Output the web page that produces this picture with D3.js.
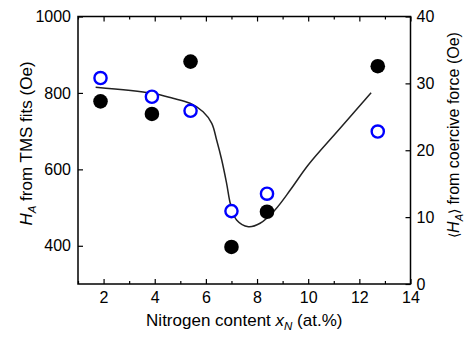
<!DOCTYPE html>
<html>
<head>
<meta charset="utf-8">
<script src="https://cdn.jsdelivr.net/npm/d3@7"></script>
<style>
  body { margin: 0; background: #fff; }
  svg text { font-family: "Liberation Sans", Arial, sans-serif; }
</style>
</head>
<body>
<div class="chart"></div>
<script>
// nitrogen content of each sample (at.%)
const xN = [1.88, 3.89, 5.4, 7.0, 8.39, 12.72];
// H_A from TMS fits (Oe), left axis
const haTMS = [778, 745, 882, 397, 489, 870];
// <H_A> from coercive force (Oe), right axis
const haCoercive = [30.8, 28.0, 25.9, 10.9, 13.5, 22.8];
// guide-to-the-eye curve, right axis units
const guideX = [1.69, 3.89, 4.71, 5.38, 5.89, 6.23, 6.42, 6.62, 6.81, 6.97, 7.2, 7.66, 8.12, 8.7, 9.32, 10.0, 11.24, 12.46];
const guideY = [29.43, 28.52, 27.77, 27.02, 25.76, 24.03, 21.53, 18.54, 15.06, 11.81, 9.57, 8.57, 9.08, 11.07, 14.16, 17.79, 23.25, 28.6];

const xTicks = [2, 4, 6, 8, 10, 12, 14];
const leftTicks = [400, 600, 800, 1000];
const rightTicks = [0, 10, 20, 30, 40];

const width = 468, height = 341;
const margin = { top: 16.5, right: 57.5, bottom: 57, left: 78 };
const w = width - margin.left - margin.right;
const h = height - margin.top - margin.bottom;

const svg = d3.select('.chart').append('svg')
  .attr('width', width)
  .attr('height', height);

const g = svg.append('g')
  .attr('transform', `translate(${margin.left},${margin.top})`);

const x = d3.scaleLinear().domain([1, 14]).range([0, w]);
const yL = d3.scaleLinear().domain([300, 1000]).range([h, 0]);
const yR = d3.scaleLinear().domain([0, 40]).range([h, 0]);

function styleAxis(sel) {
  sel.select('.domain').remove();
  sel.selectAll('line').attr('stroke', '#000').attr('stroke-width', 1.2);
  sel.selectAll('text').attr('font-size', 16).attr('fill', '#000');
}

// minor ticks
const minorX = d3.range(1, 14, 2);
g.append('g').attr('transform', `translate(0,${h})`)
  .call(d3.axisBottom(x).tickValues(minorX).tickSize(-3).tickFormat(''))
  .call(styleAxis);
g.append('g')
  .call(d3.axisTop(x).tickValues(minorX).tickSize(-3).tickFormat(''))
  .call(styleAxis);

// major ticks
g.append('g').attr('transform', `translate(0,${h})`)
  .call(d3.axisBottom(x).tickValues(xTicks).tickSize(-5).tickPadding(8).tickFormat(d3.format('d')))
  .call(styleAxis);
g.append('g')
  .call(d3.axisTop(x).tickValues(xTicks).tickSize(-5).tickFormat(''))
  .call(styleAxis);
g.append('g')
  .call(d3.axisLeft(yL).tickValues(leftTicks).tickSize(-5).tickPadding(7).tickFormat(d3.format('d')))
  .call(styleAxis);
g.append('g').attr('transform', `translate(${w},0)`)
  .call(d3.axisRight(yR).tickValues(rightTicks).tickSize(-5).tickPadding(6).tickFormat(d3.format('d')))
  .call(styleAxis);

// frame
g.append('rect')
  .attr('width', w)
  .attr('height', h)
  .attr('fill', 'none')
  .attr('stroke', '#000')
  .attr('stroke-width', 1.5);

// guide curve
const line = d3.line()
  .x(d => x(d[0]))
  .y(d => yR(d[1]))
  .curve(d3.curveCatmullRom.alpha(0.5));

g.append('path')
  .datum(d3.zip(guideX, guideY))
  .attr('fill', 'none')
  .attr('stroke', '#222')
  .attr('stroke-width', 1.5)
  .attr('d', line);

// filled circles: TMS fits
g.selectAll('.tms')
  .data(d3.zip(xN, haTMS))
  .enter()
  .append('circle')
  .attr('class', 'tms')
  .attr('cx', d => x(d[0]))
  .attr('cy', d => yL(d[1]))
  .attr('r', 7.3)
  .attr('fill', '#000');

// open circles: coercive force
g.selectAll('.hc')
  .data(d3.zip(xN, haCoercive))
  .enter()
  .append('circle')
  .attr('class', 'hc')
  .attr('cx', d => x(d[0]))
  .attr('cy', d => yR(d[1]))
  .attr('r', 6.1)
  .attr('fill', '#fff')
  .attr('stroke', '#0000ff')
  .attr('stroke-width', 2.4);

// axis titles
const xt = svg.append('text')
  .attr('x', margin.left + w / 2)
  .attr('y', 326)
  .attr('text-anchor', 'middle')
  .attr('font-size', 17);
xt.append('tspan').text('Nitrogen content ');
xt.append('tspan').attr('font-style', 'italic').text('x');
xt.append('tspan').attr('font-style', 'italic').attr('font-size', 11.5).attr('dy', 4).text('N');
xt.append('tspan').attr('dy', -4).text(' (at.%)');

const lt = svg.append('text')
  .attr('transform', 'translate(32,143.5) rotate(-90)')
  .attr('text-anchor', 'middle')
  .attr('font-size', 17);
lt.append('tspan').attr('font-style', 'italic').text('H');
lt.append('tspan').attr('font-style', 'italic').attr('font-size', 11.5).attr('dy', 4).text('A');
lt.append('tspan').attr('dy', -4).text(' from TMS fits (Oe)');

const rt = svg.append('text')
  .attr('transform', 'translate(459,135) rotate(-90)')
  .attr('text-anchor', 'middle')
  .attr('font-size', 16);
rt.append('tspan').attr('font-size', 14).text('\u27E8');
rt.append('tspan').attr('font-style', 'italic').text('H');
rt.append('tspan').attr('font-style', 'italic').attr('font-size', 11).attr('dy', 4).text('A');
rt.append('tspan').attr('font-size', 14).attr('dy', -4).text('\u27E9');
rt.append('tspan').text(' from coercive force (Oe)');
</script>
</body>
</html>
